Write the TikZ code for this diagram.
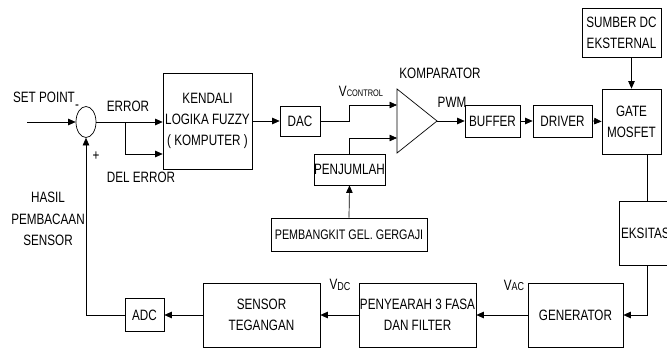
\documentclass[tikz,border=0pt]{standalone}
\usepackage{fontspec}
\setmainfont{Liberation Sans}[FakeStretch=0.78]
\usetikzlibrary{shapes.geometric,arrows.meta,calc}
\begin{document}
\begin{tikzpicture}[x=1pt,y=-1pt, line width=0.7pt,
  box/.style={draw, rectangle, inner sep=0pt, align=center, font=\fontsize{15}{21}\selectfont},
  lbl/.style={inner sep=0pt, align=center, font=\fontsize{15}{21.5}\selectfont},
  arr/.style={-{Triangle[length=7.5pt,width=6.5pt]}}]
\useasboundingbox (0,0) rectangle (667,348);
\clip (0,0) rectangle (667,348);

% blocks
\node[draw, ellipse, minimum width=20pt, minimum height=31pt, inner sep=0pt] (sum) at (86,122) {};
\node[box, minimum width=89pt, minimum height=96pt] (fuzzy) at (207.5,121) {KENDALI\\LOGIKA FUZZY\\( KOMPUTER )};
\node[box, minimum width=40pt, minimum height=30pt] (dac) at (300,121) {DAC};
\node[box, minimum width=69pt, minimum height=31pt] (penj) at (349.5,169.5) {PENJUMLAH};
\node[box, minimum width=156pt, minimum height=33pt, font=\fontsize{13.8}{16}\selectfont] (pemb) at (349,234.5) {PEMBANGKIT GEL. GERGAJI};
\node[box, minimum width=55pt, minimum height=32pt] (buffer) at (492.5,121) {BUFFER};
\node[box, minimum width=59pt, minimum height=32pt] (driver) at (562.5,121) {DRIVER};
\node[box, minimum width=59pt, minimum height=65pt] (gate) at (631.5,121.5) {GATE\\MOSFET};
\node[box, minimum width=79pt, minimum height=49pt] (sumber) at (621.5,32.5) {SUMBER DC\\EKSTERNAL};
\node[box, minimum width=56pt, minimum height=64pt] (eks) at (647,233) {EKSITASI};
\node[box, minimum width=95pt, minimum height=64pt] (gen) at (575.5,315) {GENERATOR};
\node[box, minimum width=117pt, minimum height=64pt] (peny) at (417.5,315) {PENYEARAH 3 FASA\\DAN FILTER};
\node[box, minimum width=117pt, minimum height=64pt] (sens) at (261.5,315) {SENSOR\\TEGANGAN};
\node[box, minimum width=39pt, minimum height=33pt] (adc) at (144.5,315) {ADC};

% comparator triangle
\coordinate (cin1) at (397,105);
\coordinate (cin2) at (397,138);
\coordinate (ctip) at (437,121);
\draw (397,89) -- (ctip) -- (397,153) -- cycle;

% labels
\node[lbl] (setp) at (44,97) {SET POINT};
\node[lbl] (minus) at (77,107) {-};
\node[lbl] (err) at (128,106) {ERROR};
\node[lbl] (delerr) at (141,177) {DEL ERROR};
\node[lbl] (plus) at (96,156) {+};
\node[lbl] (hasil) at (48,219) {HASIL\\PEMBACAAN\\SENSOR};
\node[lbl] (vc) at (361,91) {V{\fontsize{9.5}{9.5}\selectfont CONTROL}};
\node[lbl] (komp) at (440,73) {KOMPARATOR};
\node[lbl] (pwm) at (452,102) {PWM};
\node[lbl] (vdc) at (340,285) {V\raisebox{-1.5pt}{\fontsize{11.5}{11.5}\selectfont DC}};
\node[lbl] (vac) at (514,285) {V{\fontsize{11.5}{11.5}\selectfont AC}};

% connectors
\coordinate (sp) at (27,122);
\coordinate (br) at (125,122);
\draw[arr] (sp) -- (sum.west);
\draw[arr] (sum.east) -- (sum.east -| fuzzy.west);
\draw[arr] (br) |- ([yshift=-33pt]fuzzy.west);
\draw[arr] (fuzzy.east) -- (dac.west);
\draw[arr] (dac.east) -- ++(29,0) |- (cin1);
\draw[arr] (penj.north) |- (cin2);
\draw[arr] (pemb.north) -- (penj.south);
\draw[arr] (ctip) -- (buffer.west);
\draw[arr] (buffer.east) -- (driver.west);
\draw[arr] (driver.east) -- (gate.west);
\draw[arr] (gate.north |- sumber.south) -- (gate.north);
\draw (eks.north |- gate.south) -- (eks.north);
\draw[arr] (eks.south) |- (gen.east);
\draw[arr] (gen.west) -- (peny.east);
\draw[arr] (peny.west) -- (sens.east);
\draw[arr] (sens.west) -- (adc.east);
\draw[arr] (adc.west) -| (sum.south);
\end{tikzpicture}
\end{document}
